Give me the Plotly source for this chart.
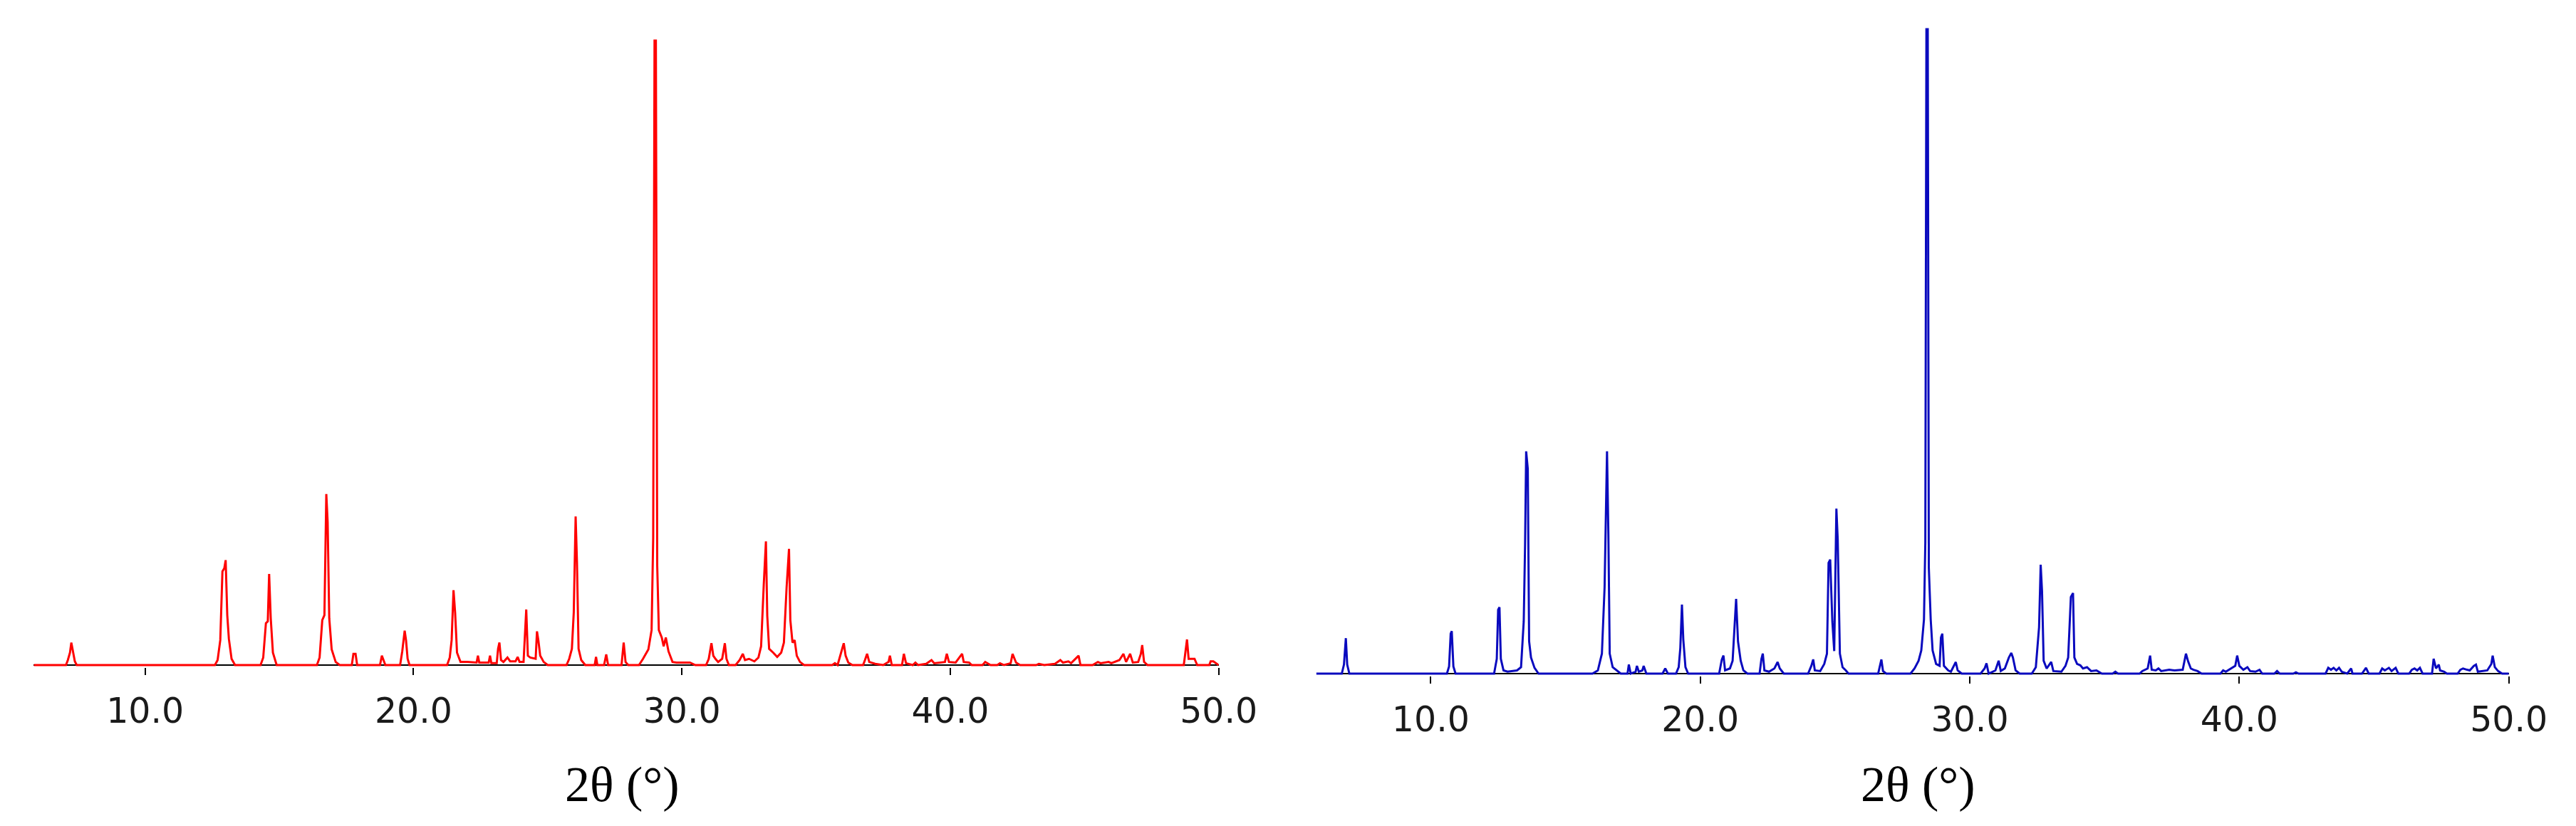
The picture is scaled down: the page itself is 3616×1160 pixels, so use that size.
import plotly.graph_objects as go

# ---------------- data (2θ in degrees, relative intensity) ----------------
red_2theta = [
    5.85, 7.05, 7.12, 7.2, 7.25, 7.32, 7.38, 7.45,
    12.6, 12.7, 12.8, 12.88, 12.95, 13.0, 13.06, 13.12, 13.22, 13.35,
    14.3, 14.4, 14.5, 14.57, 14.62, 14.68, 14.76, 14.9,
    16.4, 16.5, 16.6, 16.68, 16.75, 16.8, 16.86, 16.95, 17.1, 17.25,
    17.7, 17.76, 17.84, 17.9, 18.75, 18.82, 18.9, 18.95,
    19.5, 19.58, 19.67, 19.72, 19.78, 19.85,
    21.25, 21.35, 21.42, 21.49, 21.55, 21.62, 21.75, 22.0, 22.35, 22.4, 22.45,
    22.8, 22.85, 22.9, 23.1, 23.15, 23.2, 23.26, 23.35, 23.5, 23.6, 23.8, 23.88, 23.95,
    24.1, 24.15, 24.2, 24.26, 24.35, 24.55, 24.6, 24.65, 24.72, 24.85, 25.0,
    25.7, 25.8, 25.9, 25.97, 26.04, 26.09, 26.15, 26.25, 26.4,
    26.75, 26.8, 26.85, 27.1, 27.18, 27.25, 27.75, 27.83, 27.9, 28.0,
    28.4, 28.55, 28.75, 28.87, 28.93, 28.98, 29.03, 29.08, 29.14, 29.25, 29.32, 29.4, 29.5, 29.65, 29.8, 30.3, 30.5,
    30.9, 31.0, 31.1, 31.17, 31.25, 31.35, 31.5, 31.6, 31.66, 31.75,
    32.0, 32.15, 32.27, 32.35, 32.5, 32.7, 32.85, 32.95, 33.05, 33.13, 33.18, 33.25, 33.4, 33.55,
    33.7, 33.8, 33.9, 33.99, 34.04, 34.12, 34.2, 34.28, 34.4, 34.55,
    35.6, 35.7, 35.8, 35.9, 36.03, 36.1, 36.2, 36.35, 36.75, 36.82, 36.9, 36.98, 37.2, 37.5,
    37.7, 37.75, 37.82, 38.2, 38.27, 38.35, 38.6, 38.7, 38.8, 39.1, 39.3, 39.4, 39.6, 39.8, 39.87, 39.95,
    40.2, 40.44, 40.5, 40.7, 40.8, 41.2, 41.3, 41.5, 41.75, 41.85, 42.0, 42.25, 42.32, 42.45, 42.6,
    43.2, 43.3, 43.5, 43.9, 44.1, 44.2, 44.4, 44.5, 44.78, 44.85, 45.3, 45.5, 45.6, 45.9, 46.0,
    46.3, 46.45, 46.55, 46.7, 46.8, 47.0, 47.1, 47.15, 47.22, 47.35,
    48.7, 48.78, 48.82, 48.88, 49.1, 49.2, 49.65, 49.7, 49.8, 50.0,
]
red_intensity = [
    0, 0, 0.8, 2.0, 3.6, 1.8, 0.6, 0,
    0, 0.8, 4.0, 15.0, 15.5, 16.8, 8.0, 4.2, 1.0, 0,
    0, 1.2, 6.7, 7.0, 14.6, 7.5, 2.0, 0,
    0, 1.2, 7.2, 8.0, 27.4, 22.9, 7.5, 2.5, 0.5, 0,
    0, 1.8, 1.8, 0, 0, 1.5, 0.5, 0,
    0, 2.2, 5.5, 4.0, 1.0, 0,
    0, 1.2, 4.0, 12.0, 8.4, 2.0, 0.5, 0.5, 0.4, 1.5, 0.4,
    0.4, 1.5, 0.3, 0.3, 2.6, 3.6, 0.8, 0.5, 1.2, 0.6, 0.6, 1.3, 0.5,
    0.5, 5.4, 8.9, 1.5, 1.2, 1.0, 5.4, 4.0, 1.5, 0.5, 0,
    0, 1.0, 2.6, 8.4, 23.8, 16.4, 2.6, 0.8, 0,
    0, 1.3, 0, 0, 1.7, 0, 0, 3.6, 0.5, 0,
    0, 1.0, 2.5, 5.6, 20.4, 100, 100, 15.9, 5.6, 4.4, 3.0, 4.4, 2.2, 0.5, 0.4, 0.4, 0,
    0, 1.0, 3.5, 1.5, 1.0, 0.5, 1.0, 3.5, 1.0, 0,
    0, 0.8, 1.8, 0.8, 1.0, 0.6, 1.2, 3.0, 12.9, 19.8, 7.9, 2.6, 2.0, 1.3,
    2.0, 3.6, 12.4, 18.6, 7.2, 3.6, 4.0, 1.5, 0.5, 0,
    0, 0.3, 0, 1.5, 3.5, 1.5, 0.4, 0, 0, 0.8, 1.8, 0.5, 0.2, 0,
    0.5, 1.5, 0, 0, 1.8, 0.3, 0, 0.4, 0, 0.2, 0.8, 0.3, 0.4, 0.5, 1.8, 0.5,
    0.4, 1.8, 0.5, 0.4, 0, 0, 0.5, 0, 0, 0.3, 0, 0.3, 1.8, 0.4, 0,
    0, 0.2, 0, 0.2, 0.8, 0.4, 0.6, 0.3, 1.5, 0, 0, 0.5, 0.3, 0.5, 0.3,
    0.8, 1.8, 0.5, 1.8, 0.4, 0.5, 1.8, 3.2, 0.5, 0,
    0, 2.8, 4.1, 1.0, 1.0, 0, 0, 0.6, 0.6, 0,
]

blue_2theta = [
    5.75, 6.7, 6.78, 6.82, 6.85, 6.9, 6.98,
    10.6, 10.68, 10.74, 10.78, 10.84, 10.92,
    12.35, 12.45, 12.5, 12.55, 12.6, 12.7, 12.85, 13.2, 13.35, 13.45, 13.5, 13.54, 13.6, 13.65, 13.72, 13.85, 14.0,
    16.0, 16.2, 16.35, 16.45, 16.54, 16.59, 16.64, 16.75, 16.9, 17.05,
    17.3, 17.35, 17.42, 17.6, 17.65, 17.72, 17.85, 17.9, 18.0, 18.6, 18.7, 18.8,
    19.1, 19.2, 19.26, 19.32, 19.37, 19.45, 19.55,
    20.7, 20.8, 20.86, 20.92, 21.1, 21.2, 21.28, 21.33, 21.4, 21.5, 21.6, 21.75,
    22.2, 22.27, 22.32, 22.38, 22.55, 22.75, 22.87, 22.95, 23.1,
    24.0, 24.12, 24.19, 24.25, 24.45, 24.6, 24.7, 24.76, 24.82, 24.9, 24.97, 25.05, 25.1, 25.18, 25.28, 25.4, 25.5,
    26.6, 26.66, 26.72, 26.78, 26.9,
    27.8, 27.95, 28.1, 28.2, 28.3, 28.35, 28.39, 28.44, 28.48, 28.55, 28.62, 28.75, 28.88, 28.93, 28.98, 29.04,
    29.2, 29.3, 29.48, 29.55, 29.7,
    30.4, 30.55, 30.62, 30.7, 30.95, 31.07, 31.15, 31.3, 31.45, 31.54, 31.6, 31.7, 31.85,
    32.3, 32.45, 32.57, 32.63, 32.68, 32.74, 32.85, 33.02, 33.1, 33.4, 33.55, 33.65, 33.75, 33.83, 33.88,
    33.98, 34.1, 34.2, 34.35, 34.5, 34.7, 34.9, 35.3, 35.4, 35.5,
    36.3, 36.4, 36.6, 36.69, 36.75, 36.9, 37.0, 37.1, 37.4, 37.6, 37.9, 38.02, 38.1, 38.2, 38.3, 38.45, 38.6,
    39.3, 39.4, 39.5, 39.7, 39.85, 39.92, 40.0, 40.15, 40.3, 40.4, 40.6, 40.75, 40.85, 41.3, 41.4, 41.5,
    42.0, 42.1, 42.2, 43.2, 43.3, 43.4, 43.5, 43.6, 43.7, 43.8, 44.0, 44.15, 44.2, 44.55, 44.7, 44.8,
    45.2, 45.3, 45.4, 45.55, 45.65, 45.8, 45.9, 46.3, 46.4, 46.5, 46.6, 46.7, 46.8,
    47.15, 47.21, 47.3, 47.4, 47.45, 47.6, 47.7, 48.1, 48.2, 48.3, 48.45, 48.55, 48.7, 48.78, 48.85,
    49.2, 49.35, 49.4, 49.48, 49.6, 49.75, 50.0,
]
blue_intensity = [
    0, 0, 1.4, 4.5, 5.5, 1.4, 0,
    0, 1.1, 6.2, 6.6, 1.1, 0,
    0, 2.3, 9.9, 10.3, 2.3, 0.5, 0.3, 0.5, 1.0, 8.1, 20.0, 34.5, 31.8, 5.0, 2.5, 0.9, 0,
    0, 0.5, 3.1, 13.4, 34.5, 21.7, 3.1, 1.0, 0.5, 0,
    0, 1.4, 0, 0.3, 1.2, 0.3, 0.5, 1.2, 0, 0, 0.8, 0,
    0, 1.0, 4.0, 10.7, 5.3, 1.0, 0,
    0, 2.2, 2.8, 0.5, 0.8, 2.0, 8.4, 11.6, 5.0, 2.0, 0.5, 0,
    0, 2.3, 3.1, 0.5, 0.3, 0.8, 1.8, 0.8, 0,
    0, 1.2, 2.2, 0.5, 0.4, 1.5, 3.1, 17.2, 17.7, 8.1, 3.5, 25.6, 20.8, 3.1, 1.0, 0.5, 0,
    0, 1.2, 2.2, 0.4, 0,
    0, 0.8, 2.0, 3.6, 8.4, 20.4, 100, 100, 16.4, 8.4, 3.6, 1.5, 1.2, 5.6, 6.2, 1.2,
    0.5, 0.3, 1.8, 0.5, 0,
    0, 0.8, 1.6, 0, 0.5, 2.0, 0.4, 0.8, 2.5, 3.2, 2.5, 0.5, 0,
    0, 1.0, 7.2, 16.9, 12.8, 2.0, 0.8, 1.8, 0.4, 0.3, 1.2, 2.5, 11.9, 12.5, 2.5,
    1.5, 1.3, 0.8, 1.0, 0.4, 0.5, 0, 0, 0.3, 0,
    0, 0.4, 0.8, 2.8, 0.6, 0.5, 0.8, 0.4, 0.6, 0.5, 0.6, 3.1, 1.9, 0.8, 0.6, 0.4, 0,
    0, 0.5, 0.3, 0.8, 1.2, 2.8, 1.2, 0.6, 1.0, 0.4, 0.3, 0.6, 0, 0, 0.4, 0,
    0, 0.2, 0, 0, 0.9, 0.6, 0.9, 0.5, 0.9, 0.3, 0, 0.8, 0, 0, 0.9, 0,
    0, 0.8, 0.5, 0.9, 0.4, 0.9, 0, 0, 0.6, 0.8, 0.5, 0.9, 0,
    0, 2.3, 0.8, 1.4, 0.5, 0.3, 0, 0, 0.6, 0.8, 0.6, 0.5, 1.2, 1.4, 0.3,
    0.5, 1.5, 2.8, 1.0, 0.4, 0, 0,
]

tick_values = [10, 20, 30, 40, 50]
tick_labels = ["10.0", "20.0", "30.0", "40.0", "50.0"]
axis_title = "2θ (°)"

# ---------------- layout geometry (pixels) ----------------
W, H = 3616, 1160

def ydomain(base_px, top_px, ymin, ymax):
    unit = (base_px - top_px) / 100.0
    bottom = base_px - ymin * unit  # ymin negative -> below baseline
    top = base_px - ymax * unit
    return [1 - bottom / H, 1 - top / H]

Y_MIN, Y_MAX = -0.35, 102

fig = go.Figure()
fig.add_trace(go.Scatter(x=red_2theta, y=red_intensity, mode="lines",
                         line=dict(color="#FF0000", width=3), xaxis="x", yaxis="y",
                         showlegend=False, hoverinfo="skip"))
fig.add_trace(go.Scatter(x=blue_2theta, y=blue_intensity, mode="lines",
                         line=dict(color="#0A0ABE", width=3), xaxis="x2", yaxis="y2",
                         showlegend=False, hoverinfo="skip"))

tick_font = dict(family="DejaVu Sans, Verdana, sans-serif", size=49, color="#1a1a1a")
xcommon = dict(tickmode="array", tickvals=tick_values, ticktext=tick_labels,
               ticks="outside", ticklen=10, tickwidth=2, tickcolor="black",
               showline=False, showgrid=False, zeroline=False, tickfont=tick_font,
               ticklabelstandoff=8)
ycommon = dict(showticklabels=False, showgrid=False, ticks="", showline=False,
               zeroline=True, zerolinecolor="black", zerolinewidth=2,
               range=[Y_MIN, Y_MAX])

fig.update_layout(
    width=W, height=H,
    margin=dict(l=0, r=0, t=0, b=0),
    paper_bgcolor="white", plot_bgcolor="white",
    xaxis=dict(domain=[40 / W, 1729 / W], range=[5.85, 50], anchor="y", **xcommon),
    yaxis=dict(domain=ydomain(926, 49, Y_MIN, Y_MAX), anchor="x", **ycommon),
    xaxis2=dict(domain=[1868 / W, 3568 / W], range=[5.75, 50], anchor="y2", **xcommon),
    yaxis2=dict(domain=ydomain(938, 33, Y_MIN, Y_MAX), anchor="x2", **ycommon),
)

title_font = dict(family="Liberation Serif, Times New Roman, serif", size=70, color="black")
for xc in (879, 2726):
    fig.add_annotation(text=axis_title, x=xc / W, y=1 - 1093 / H, xref="paper", yref="paper",
                       xanchor="center", yanchor="middle", showarrow=False, font=title_font)

fig.write_html("out.html")
